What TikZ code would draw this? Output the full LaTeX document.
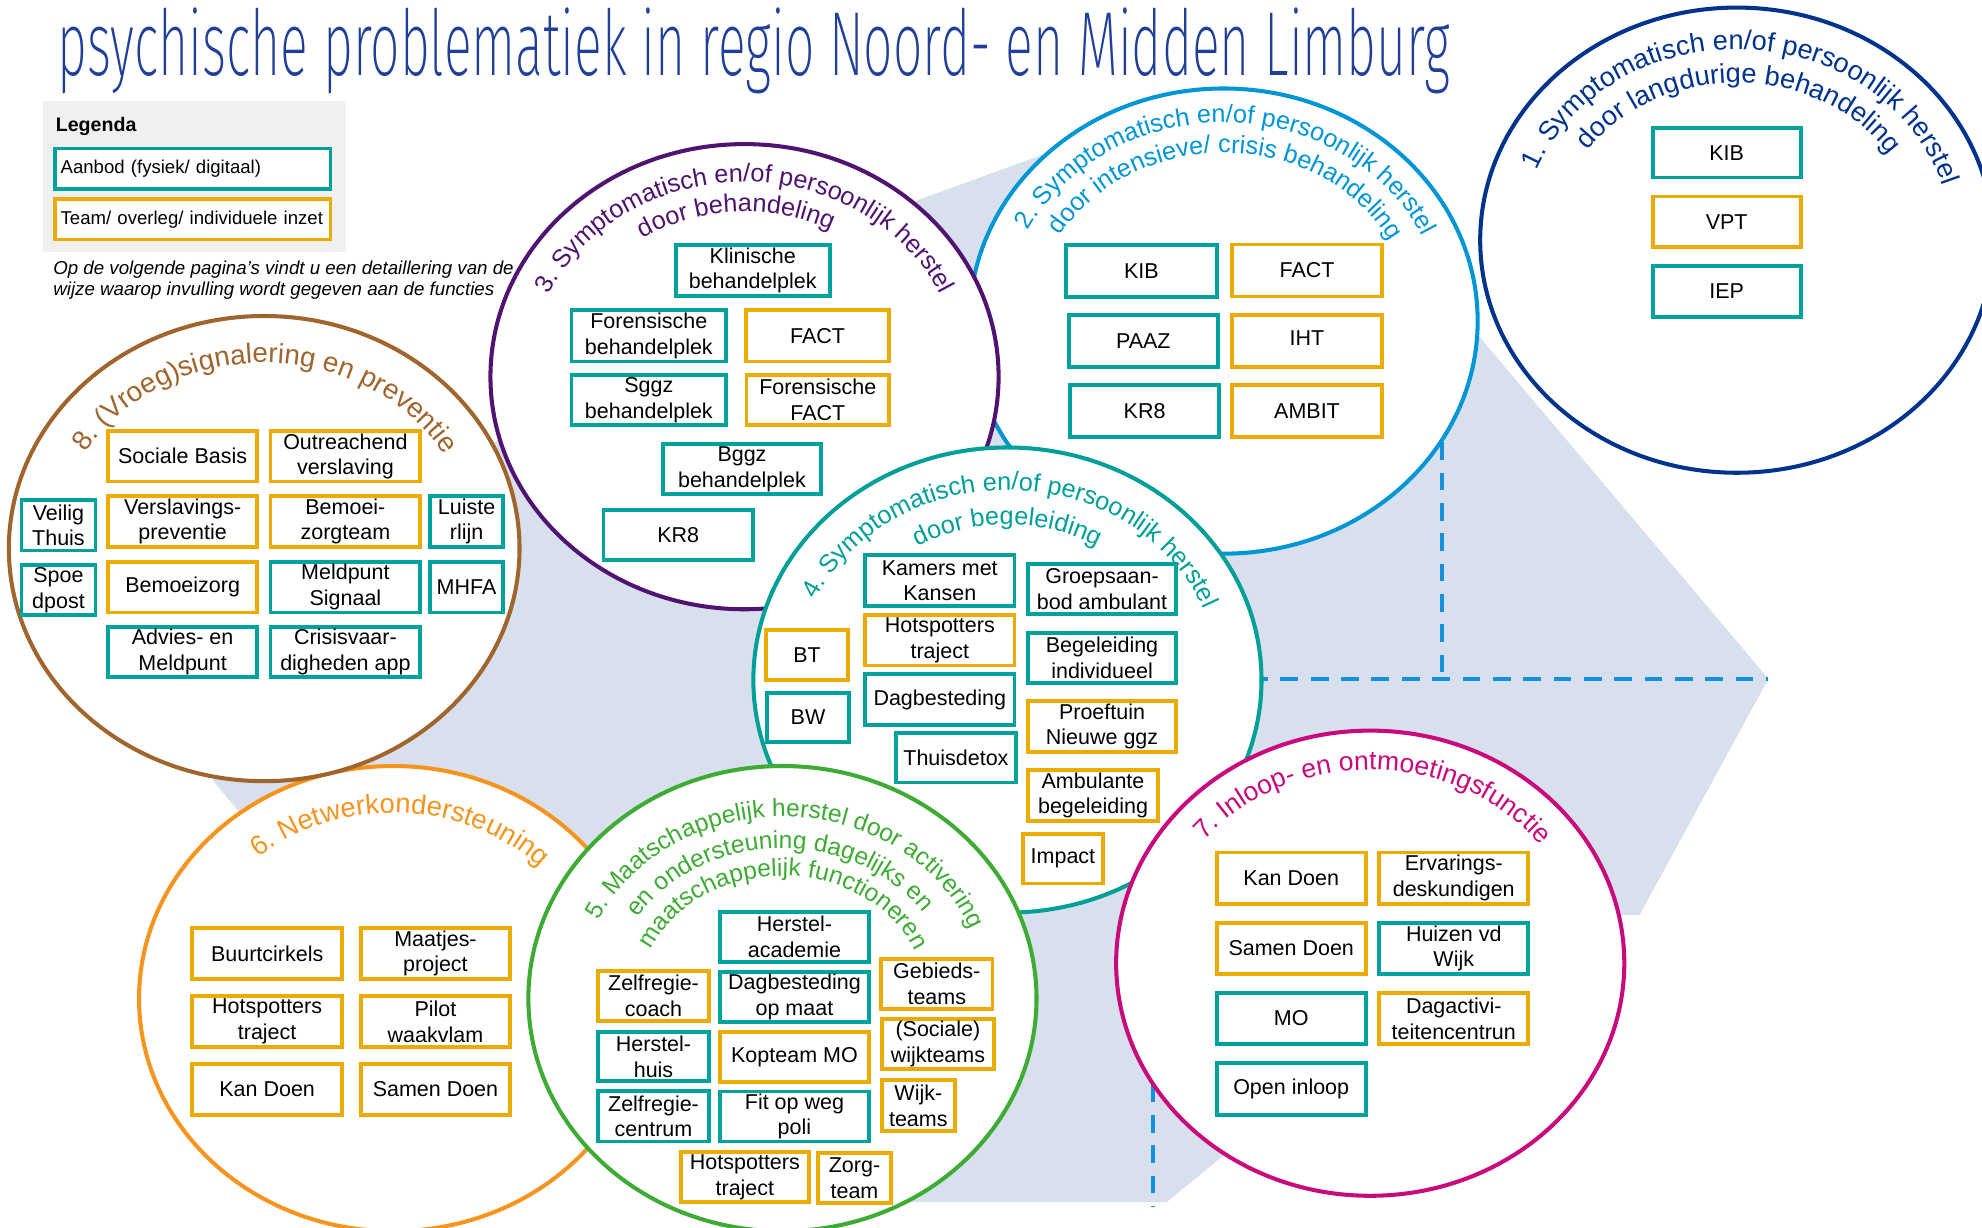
\documentclass[tikz,border=0pt]{standalone}
\usepackage{fontspec}
\setmainfont{Liberation Sans}
\IfFontExistsTF{Fira Sans ExtraLight}{\newfontfamily\titlefont{Fira Sans ExtraLight}}{%
  \IfFontExistsTF{Fira Sans Light}{\newfontfamily\titlefont{Fira Sans Light}}{\newfontfamily\titlefont{Liberation Sans}}}
\usepackage{graphicx}
\usetikzlibrary{decorations.text,calc}

\definecolor{teal1}{RGB}{0,163,155}
\definecolor{gold1}{RGB}{236,171,0}
\definecolor{cA}{RGB}{0,51,141}
\definecolor{cB}{RGB}{0,150,214}
\definecolor{cC}{RGB}{80,20,112}
\definecolor{cD}{RGB}{0,160,152}
\definecolor{cE}{RGB}{62,172,52}
\definecolor{cF}{RGB}{247,148,30}
\definecolor{cG}{RGB}{200,10,125}
\definecolor{cH}{RGB}{160,100,45}
\definecolor{hexgray}{RGB}{216,224,237}
\definecolor{legendgray}{RGB}{240,240,240}
\definecolor{titleblue}{RGB}{31,63,153}
\definecolor{dashblue}{RGB}{20,145,220}

\tikzset{
  box/.style={draw, line width=3pt, fill=white, inner sep=0pt, align=center,
    font=\fontsize{17}{20.3}\selectfont},
  tbox/.style={box, draw=teal1},
  gbox/.style={box, draw=gold1},
  ring/.style={line width=3.2pt, fill=white},
  dashline/.style={draw=dashblue, line width=3.5pt, dash pattern=on 14pt off 10pt},
}

% #1 name, #2 style, #3 x1, #4 y1, #5 x2, #6 y2 (display coords, y down), #7 text
\newcommand{\placebox}[7]{%
  \node[#2, minimum width={(#5-#3-3)*1pt}, minimum height={(#6-#4-3)*1pt}]
    (#1) at ({(#3+#5)/2},{-(#4+#6)/2}) {#7};}

% #1 centre, #2 rx, #3 ry, #4 middle angle, #5 colour, #6 font size, #7 text
\newcommand{\arclab}[7]{%
  \path[decorate, decoration={text along path, text align=center, text color=#5,
      text={|\fontsize{#6}{#6}\selectfont|#7}}]
    ($(#1)+({#2*cos(#4+100)},{#3*sin(#4+100)})$)
    arc[start angle={#4+100}, end angle={#4-100}, x radius=#2, y radius=#3];}

\begin{document}
\begin{tikzpicture}[x=1pt,y=1pt]
\useasboundingbox (0,0) rectangle (1568,-971);

% background polygon
\coordinate (hexL) at (168,-617);
\coordinate (hexUL) at (300,-414);
\coordinate (hexA) at (600,-204);
\coordinate (hexT) at (950,-77);
\coordinate (hexTR) at (1012,-79);
\coordinate (hexR) at (1399,-537);
\coordinate (hexBR) at (1297,-724);
\coordinate (hexBM) at (1200,-724);
\coordinate (hexB) at (923,-951);
\coordinate (hexBL) at (540,-951);
\coordinate (hexLB) at (260,-727);
\fill[hexgray] (hexL) -- (hexUL) -- (hexA) -- (hexT) -- (hexTR) -- (hexR) -- (hexBR) -- (hexBM)
  -- (hexB) -- (hexBL) -- (hexLB) -- cycle;

% dashed lines
\coordinate (dvtop) at (1141,-254);
\coordinate (djoin) at (1141,-537);
\coordinate (dhstart) at (797,-537);
\coordinate (dwtop) at (912,-762);
\coordinate (dwbot) at (912,-955);
\draw[dashline] (dvtop) -- (djoin);
\draw[dashline] (dhstart) -- (hexR);
\draw[dashline] (dwtop) -- (dwbot);

% title
\node[anchor=base west, inner sep=0pt, text=titleblue] (title) at (45.4,-60)
  {\resizebox{1102pt}{\height}{\titlefont\fontsize{72}{72}\selectfont psychische problematiek in regio Noord- en Midden Limburg}};

% legend
\node[fill=legendgray, minimum width=240pt, minimum height=119pt, inner sep=0pt] (legendbg) at (154,-139.5) {};
\node[anchor=base west, inner sep=0pt, font=\bfseries\fontsize{15.5}{18}\selectfont] (legendtitle) at (44,-104) {Legenda};
\node[draw=teal1, line width=3pt, fill=white, minimum height=32pt, text width=209pt, inner xsep=4.5pt, inner ysep=0pt,
  align=left, font=\fontsize{14.7}{17}\selectfont] (legendA) at (152.5,-133.5) {Aanbod (fysiek/ digitaal)};
\node[draw=gold1, line width=3pt, fill=white, minimum height=32pt, text width=209pt, inner xsep=4.5pt, inner ysep=0pt,
  align=left, font=\fontsize{14.7}{17}\selectfont] (legendB) at (152.5,-173.5) {Team/ overleg/ individuele inzet};
\node[anchor=north west, inner sep=0pt, align=left, font=\itshape\fontsize{14.8}{16}\selectfont] (note) at (42,-206.5)
  {Op de volgende pagina’s vindt u een detaillering van de\\wijze waarop invulling wordt gegeven aan de functies};

% ---- circle 1
\coordinate (cen1) at (1374,-190);
\draw[ring, draw=cA] (cen1) ellipse [x radius=203, y radius=184];
\arclab{cen1}{170}{151}{87.5}{cA}{21.5}{1. Symptomatisch en/of persoonlijk herstel}
\arclab{cen1}{143.5}{124.5}{89}{cA}{21.5}{door langdurige behandeling}
\placebox{c1kib}{tbox}{1306}{100}{1426}{142}{KIB}
\placebox{c1vpt}{gbox}{1306}{154}{1426}{197}{VPT}
\placebox{c1iep}{tbox}{1306}{209}{1426}{252}{IEP}

% ---- circle 2
\coordinate (cen2) at (968,-254);
\draw[ring, draw=cB] (cen2) ellipse [x radius=201, y radius=184];
\arclab{cen2}{174}{157}{89}{cB}{20}{2. Symptomatisch en/of persoonlijk herstel}
\arclab{cen2}{150}{133}{89}{cB}{20}{door intensieve/ crisis behandeling}
\placebox{c2kib}{tbox}{842}{192.5}{964}{236.5}{KIB}
\placebox{c2fact}{gbox}{973}{192}{1095}{236}{FACT}
\placebox{c2paaz}{tbox}{844}{248}{965}{292}{PAAZ}
\placebox{c2iht}{gbox}{973}{248}{1095}{292}{\raisebox{4.5pt}{IHT}}
\placebox{c2kr8}{tbox}{845}{303}{966}{347}{KR8}
\placebox{c2ambit}{gbox}{973}{303}{1095}{347}{AMBIT}

% ---- circle 3
\coordinate (cen3) at (589,-298);
\draw[ring, draw=cC] (cen3) ellipse [x radius=201, y radius=184];
\arclab{cen3}{171}{154}{90}{cC}{20}{3. Symptomatisch en/of persoonlijk herstel}
\arclab{cen3}{147.5}{130.5}{93}{cC}{20}{door behandeling}
\placebox{c3klin}{tbox}{533}{192.5}{658}{235.5}{Klinische\\behandelplek}
\placebox{c3forb}{tbox}{450.6}{244}{576}{287.5}{Forensische\\behandelplek}
\placebox{c3fact}{gbox}{588.6}{244}{705}{287.5}{FACT}
\placebox{c3sggz}{tbox}{450.6}{295}{576}{338}{Sggz\\behandelplek}
\placebox{c3ffact}{gbox}{589}{295}{705}{338}{Forensische\\FACT}
\placebox{c3bggz}{tbox}{523}{349.6}{651}{392.6}{Bggz\\behandelplek}
\placebox{c3kr8}{tbox}{476}{402}{597}{444.6}{KR8}

% ---- circle 4
\coordinate (cen4) at (797,-538);
\draw[ring, draw=cD] (cen4) ellipse [x radius=201, y radius=184];
\arclab{cen4}{167.4}{150.4}{88.4}{cD}{20}{4. Symptomatisch en/of persoonlijk herstel}
\arclab{cen4}{140}{123}{90}{cD}{20}{door begeleiding}
\placebox{c4kamers}{tbox}{683}{437.7}{804}{481}{Kamers met\\Kansen}
\placebox{c4groep}{tbox}{811.7}{444.6}{932}{487.5}{Groepsaan-\\bod ambulant}
\placebox{c4hot}{gbox}{683}{485}{804}{528}{Hotspotters\\traject}
\placebox{c4begind}{tbox}{811.7}{499}{932}{542}{Begeleiding\\individueel}
\placebox{c4bt}{gbox}{604.6}{497}{672.4}{539.7}{BT}
\placebox{c4bw}{tbox}{605.5}{546.5}{673}{588.6}{BW}
\placebox{c4dag}{tbox}{683}{531.8}{804}{575}{Dagbesteding}
\placebox{c4proef}{gbox}{811.7}{553}{932}{596.5}{Proeftuin\\Nieuwe ggz}
\placebox{c4thuis}{tbox}{707.5}{578.5}{805}{620.5}{Thuisdetox}
\placebox{c4ambu}{gbox}{811.7}{607.6}{917.7}{651}{Ambulante\\begeleiding}
\placebox{c4impact}{gbox}{807.8}{658}{874}{700.5}{Impact}

% ---- circle 6
\coordinate (cen6) at (311,-790);
\draw[ring, draw=cF] (cen6) ellipse [x radius=201, y radius=184];
\arclab{cen6}{164}{147}{87.5}{cF}{21.7}{6. Netwerkondersteuning}
\placebox{c6buurt}{gbox}{150.7}{732.6}{272}{776}{Buurtcirkels}
\placebox{c6maatjes}{gbox}{284}{732.6}{405}{776}{Maatjes-\\project}
\placebox{c6hot}{gbox}{150.7}{786.4}{272}{830}{Hotspotters\\traject}
\placebox{c6pilot}{gbox}{284}{786.4}{405}{830}{Pilot\\waakvlam}
\placebox{c6kan}{gbox}{150.7}{840}{272}{883.6}{Kan Doen}
\placebox{c6samen}{gbox}{284}{840}{405}{883.6}{Samen Doen}

% ---- circle 8
\coordinate (cen8) at (209,-434);
\draw[ring, draw=cH] (cen8) ellipse [x radius=202, y radius=184];
\arclab{cen8}{165}{147}{89.5}{cH}{22}{8. (Vroeg)signalering en preventie}
\placebox{c8soc}{gbox}{84}{339.6}{205}{382.4}{Sociale Basis}
\placebox{c8outr}{gbox}{212.5}{339.6}{334}{382.4}{Outreachend\\verslaving}
\placebox{c8veilig}{tbox}{15.5}{394}{77}{437}{Veilig\\Thuis}
\placebox{c8verprev}{gbox}{84}{391}{205}{434}{Verslavings-\\preventie}
\placebox{c8bemteam}{gbox}{212.5}{391}{334}{434}{Bemoei-\\zorgteam}
\placebox{c8luist}{tbox}{338.6}{391}{399.6}{434}{Luiste\\rlijn}
\placebox{c8spoed}{tbox}{15.5}{445.6}{77}{488}{Spoe\\dpost}
\placebox{c8bemz}{gbox}{84}{443}{205}{486}{Bemoeizorg}
\placebox{c8meld}{tbox}{212.5}{443}{334}{486}{Meldpunt\\Signaal}
\placebox{c8mhfa}{tbox}{338.6}{443}{399.6}{486}{MHFA}
\placebox{c8advies}{tbox}{84}{494.5}{205}{537}{Advies- en\\Meldpunt}
\placebox{c8crisis}{tbox}{212.5}{494.5}{334}{537}{Crisisvaar-\\digheden app}

% ---- circle 5
\coordinate (cen5) at (619,-790);
\draw[ring, draw=cE] (cen5) ellipse [x radius=201, y radius=184];
\arclab{cen5}{161}{144}{88.3}{cE}{19.5}{5. Maatschappelijk herstel door activering}
\arclab{cen5}{136}{119}{91.2}{cE}{19.5}{en ondersteuning dagelijks en}
\arclab{cen5}{114}{97}{89.6}{cE}{19.5}{maatschappelijk functioneren}
\placebox{c5hacad}{tbox}{568}{720}{689}{762.5}{Herstel-\\academie}
\placebox{c5gebied}{gbox}{695.6}{757}{786.6}{800}{Gebieds-\\teams}
\placebox{c5zcoach}{gbox}{471.5}{766.6}{562.5}{809.5}{Zelfregie-\\coach}
\placebox{c5dagmaat}{tbox}{568}{767.4}{689}{810}{Dagbesteding\\op maat}
\placebox{c5sociale}{gbox}{696}{804.4}{788}{847.5}{(Sociale)\\wijkteams}
\placebox{c5hhuis}{tbox}{471.5}{815}{562.5}{857}{Herstel-\\huis}
\placebox{c5kopteam}{gbox}{568}{815}{689}{857.5}{Kopteam MO}
\placebox{c5wijk}{gbox}{696}{853}{757}{896.5}{Wijk-\\teams}
\placebox{c5zcentrum}{tbox}{471.5}{861.6}{562.5}{904.5}{Zelfregie-\\centrum}
\placebox{c5fit}{tbox}{568}{862}{689}{904.5}{Fit op weg\\poli}
\placebox{c5hot}{gbox}{537}{909.8}{641.6}{952.5}{Hotspotters\\traject}
\placebox{c5zorg}{gbox}{645.6}{910.6}{706.4}{953.3}{Zorg-\\team}

% ---- circle 7
\coordinate (cen7) at (1084,-762);
\draw[ring, draw=cG] (cen7) ellipse [x radius=201, y radius=184];
\arclab{cen7}{170}{153}{89}{cG}{21}{7. Inloop- en ontmoetingsfunctie}
\placebox{c7kan}{gbox}{961}{673}{1082}{716.6}{Kan Doen}
\placebox{c7erv}{gbox}{1089.6}{673}{1210.6}{716.6}{Ervarings-\\deskundigen}
\placebox{c7samen}{gbox}{961}{728.7}{1082}{772}{Samen Doen}
\placebox{c7huizen}{tbox}{1089.6}{728.7}{1210.6}{772}{Huizen vd\\Wijk}
\placebox{c7mo}{tbox}{961}{784}{1082}{827.6}{MO}
\placebox{c7dag}{gbox}{1089.6}{784}{1210.6}{827.6}{Dagactivi-\\teitencentrun}
\placebox{c7open}{tbox}{961}{839.5}{1082}{883.5}{Open inloop}

\end{tikzpicture}
\end{document}
